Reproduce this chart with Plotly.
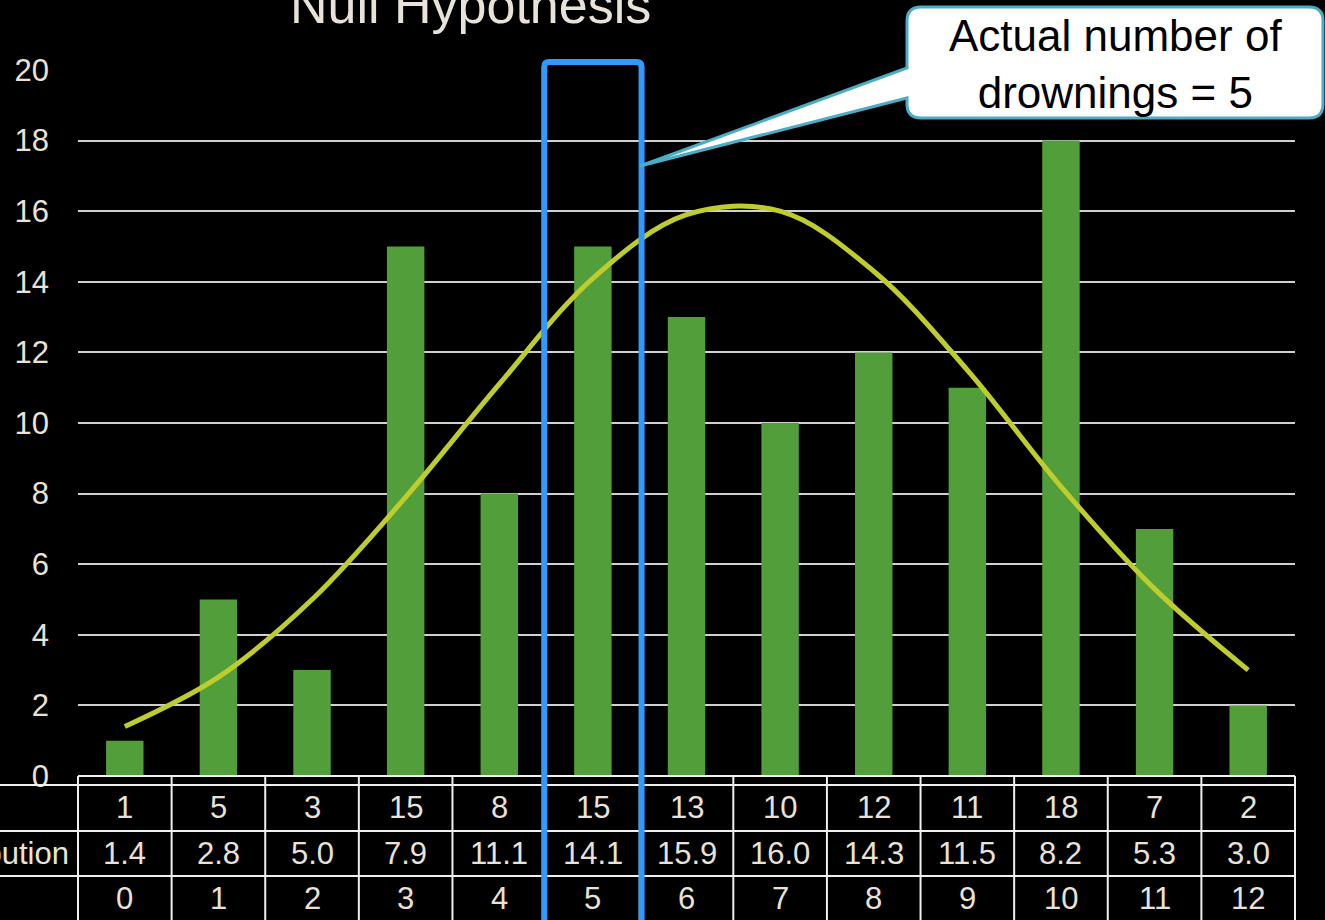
import plotly.graph_objects as go

categories = list(range(13))
observed = [1, 5, 3, 15, 8, 15, 13, 10, 12, 11, 18, 7, 2]
distribution = [1.4, 2.8, 5.0, 7.9, 11.1, 14.1, 15.9, 16.0, 14.3, 11.5, 8.2, 5.3, 3.0]
y_ticks = list(range(0, 21, 2))
title_text = "Null Hypothesis"
row_labels = ["", "Poisson Distribution", ""]
callout_lines = ["Actual number of", "drownings = 5"]
highlight_value = 5

W, H = 1325, 920
L, R, T, B = 78, 30, 70, 144
PW, PH = W - L - R, H - T - B
TXT = "#E8E2D8"
FONT = "Liberation Sans"


def fx(px):
    return (px - L) / PW


def fy(py):
    return (H - B - py) / PH


fig = go.Figure()
fig.add_trace(go.Bar(x=categories, y=observed, width=0.4,
                     marker=dict(color="#529E3B", line=dict(width=0)),
                     showlegend=False))
fig.add_trace(go.Scatter(x=categories, y=distribution, mode="lines",
                         line=dict(color="#BFCC2E", width=5, shape="spline", smoothing=1.0),
                         showlegend=False))

shapes = []
ncat = len(categories)
line_col = "#F0F0F0"
# table vertical lines
for k in range(ncat + 1):
    xk = k / ncat
    shapes.append(dict(type="line", xref="paper", yref="paper", x0=xk, x1=xk,
                       y0=0, y1=fy(H + 10), line=dict(color=line_col, width=2)))
# table horizontal lines
shapes.append(dict(type="line", xref="paper", yref="paper", x0=0, x1=1, y0=0, y1=0,
                   line=dict(color=line_col, width=2)))
for py in [785, 831, 876]:
    shapes.append(dict(type="line", xref="paper", yref="paper", x0=fx(-5), x1=1,
                       y0=fy(py), y1=fy(py), line=dict(color=line_col, width=2)))

# highlight box around the actual value (rounded top corners)
hx0 = L + (highlight_value - 0.02) * PW / ncat
hx1 = L + (highlight_value + 1.02) * PW / ncat
ht, rr = 62, 5
hp = f"M {fx(hx0):.5f},{fy(H + 20):.5f} L {fx(hx0):.5f},{fy(ht + rr):.5f}"
hp += f" Q {fx(hx0):.5f},{fy(ht):.5f} {fx(hx0 + rr):.5f},{fy(ht):.5f}"
hp += f" L {fx(hx1 - rr):.5f},{fy(ht):.5f}"
hp += f" Q {fx(hx1):.5f},{fy(ht):.5f} {fx(hx1):.5f},{fy(ht + rr):.5f}"
hp += f" L {fx(hx1):.5f},{fy(H + 20):.5f}"
shapes.append(dict(type="path", xref="paper", yref="paper", path=hp,
                   line=dict(color="#3399FF", width=6), layer="above"))

# callout with tail
bx0, bx1, by0, by1, r = 907, 1323, 7, 118, 14
tip = (640, 166)
s = f"M {fx(bx0 + r):.5f},{fy(by0):.5f}"
s += f" L {fx(bx1 - r):.5f},{fy(by0):.5f}"
s += f" Q {fx(bx1):.5f},{fy(by0):.5f} {fx(bx1):.5f},{fy(by0 + r):.5f}"
s += f" L {fx(bx1):.5f},{fy(by1 - r):.5f}"
s += f" Q {fx(bx1):.5f},{fy(by1):.5f} {fx(bx1 - r):.5f},{fy(by1):.5f}"
s += f" L {fx(bx0 + r):.5f},{fy(by1):.5f}"
s += f" Q {fx(bx0):.5f},{fy(by1):.5f} {fx(bx0):.5f},{fy(by1 - r):.5f}"
s += f" L {fx(bx0):.5f},{fy(98):.5f}"
s += f" L {fx(tip[0]):.5f},{fy(tip[1]):.5f}"
s += f" L {fx(bx0):.5f},{fy(68):.5f}"
s += f" L {fx(bx0):.5f},{fy(by0 + r):.5f}"
s += f" Q {fx(bx0):.5f},{fy(by0):.5f} {fx(bx0 + r):.5f},{fy(by0):.5f} Z"
shapes.append(dict(type="path", xref="paper", yref="paper", path=s,
                   fillcolor="white", line=dict(color="#4BACC6", width=3), layer="above"))

annotations = []
row_y = [808, 853, 898]
rows = [[str(v) for v in observed], [f"{v:.1f}" for v in distribution], [str(c) for c in categories]]
for ri, vals in enumerate(rows):
    for ci, v in enumerate(vals):
        annotations.append(dict(x=(ci + 0.5) / ncat, y=fy(row_y[ri]), xref="paper", yref="paper",
                                text=v, showarrow=False, xanchor="center", yanchor="middle",
                                font=dict(family=FONT, size=31, color=TXT)))
    if row_labels[ri]:
        annotations.append(dict(x=fx(71), y=fy(row_y[ri]), xref="paper", yref="paper",
                                text=row_labels[ri], showarrow=False, xanchor="right",
                                yanchor="middle", font=dict(family=FONT, size=31, color=TXT)))

annotations.append(dict(x=fx(470), y=fy(5), xref="paper", yref="paper", text=title_text,
                        showarrow=False, xanchor="center", yanchor="middle",
                        font=dict(family=FONT, size=52, color=TXT)))
annotations.append(dict(x=fx(1115), y=fy(64), xref="paper", yref="paper",
                        text="<br>".join(callout_lines), showarrow=False,
                        xanchor="center", yanchor="middle",
                        font=dict(family=FONT, size=44, color="black")))

fig.update_layout(
    width=W, height=H,
    margin=dict(l=L, r=R, t=T, b=B, autoexpand=False),
    paper_bgcolor="black", plot_bgcolor="black",
    shapes=shapes, annotations=annotations,
    xaxis=dict(range=[-0.5, 12.5], showticklabels=False, showgrid=False, zeroline=False,
               showline=False, fixedrange=True),
    yaxis=dict(range=[0, 20], tickvals=y_ticks, showgrid=True, gridcolor="#D0D0D0",
               gridwidth=1.5, zeroline=False, showline=False,
               tickfont=dict(family=FONT, size=31, color=TXT), ticklabelstandoff=28),
)

fig.write_html("out.html", config={"displayModeBar": False},
               post_script="document.body.style.margin='0';document.body.style.background='black';document.body.style.overflow='hidden';")
